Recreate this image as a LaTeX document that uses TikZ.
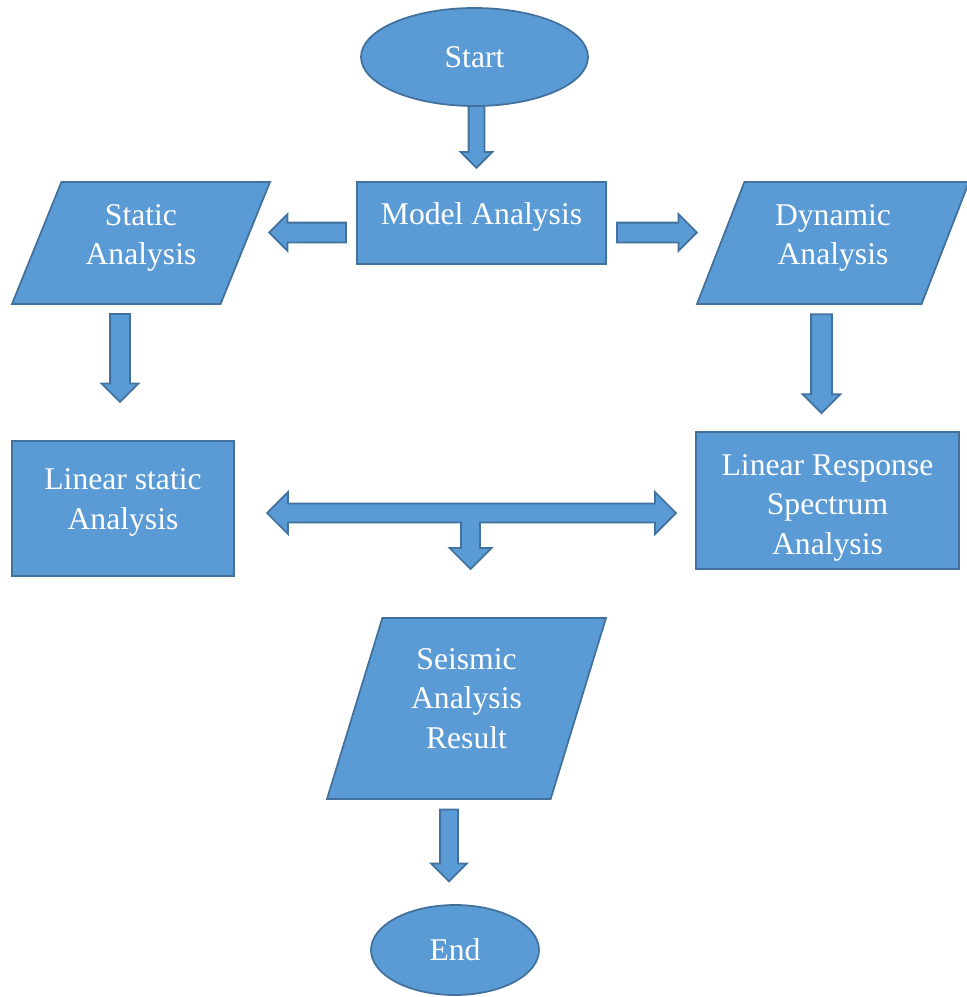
\documentclass[tikz,border=0pt]{standalone}
\usepackage{fontspec}
\setmainfont{Liberation Serif}
\usetikzlibrary{shapes.geometric,shapes.arrows}
\definecolor{boxfill}{HTML}{5B9BD5}
\definecolor{boxline}{HTML}{41719C}
\tikzset{
  shapebase/.style={draw=boxline, fill=boxfill, line width=1pt, text=white, align=center,
    font=\fontsize{18}{22.5}\selectfont},
  terminal/.style={shapebase, ellipse, inner sep=0pt},
  process/.style={shapebase, rectangle},
  data/.style 2 args={shapebase, trapezium, trapezium left angle=#1, trapezium right angle=#2,
    trapezium stretches body},
  blockarrow/.style={single arrow, draw=boxline, fill=boxfill, line width=1pt, inner xsep=0pt,
    single arrow tip angle=90, single arrow head indent=0pt, rotate=#1},
  flowline/.style={draw=boxline, fill=boxfill, line width=1pt}
}
\begin{document}
\begin{tikzpicture}
  \useasboundingbox (0,0) rectangle (19.34,-19.94);
  % boxes
  \node[terminal, minimum width=4.54cm, minimum height=1.96cm] (start) at (9.49,-1.14) {Start};
  \node[process, minimum width=4.98cm, minimum height=1.64cm, text height=0.45cm, text depth=0.41cm] (model) at (9.63,-4.46) {Model Analysis};
  \node[data={61}{119}, minimum width=5.16cm, minimum height=2.44cm, text depth=0.34cm] (static) at (2.82,-4.86) {Static\\Analysis};
  \node[data={62}{118}, minimum width=5.44cm, minimum height=2.44cm, text depth=0.34cm] (dynamic) at (16.66,-4.86) {Dynamic\\Analysis};
  \node[process, minimum width=4.44cm, minimum height=2.70cm, text depth=0.38cm] (linstat) at (2.46,-10.17) {Linear static\\Analysis};
  \node[process, minimum width=5.26cm, minimum height=2.74cm, text height=2.29cm] (lrs) at (16.55,-10.01) {Linear Response\\Spectrum\\Analysis};
  \node[data={67.2}{112.8}, minimum width=5.58cm, minimum height=3.62cm, text depth=0.40cm] (seismic) at (9.33,-14.17) {Seismic\\Analysis\\Result};
  \node[terminal, minimum width=3.36cm, minimum height=1.80cm] (end) at (9.10,-19.00) {End};
  % block arrows
  \node[blockarrow=-90, minimum height=1.24cm, inner ysep=0.14cm, single arrow head extend=0.16cm] (startmodel) at (9.53,-2.66) {};
  \node[blockarrow=180, minimum height=1.54cm, inner ysep=0.18cm, single arrow head extend=0.17cm] (modelstatic) at (6.25,-4.65) {};
  \node[blockarrow=0, minimum height=1.60cm, inner ysep=0.18cm, single arrow head extend=0.17cm] (modeldynamic) at (13.04,-4.65) {};
  \node[blockarrow=-90, minimum height=1.76cm, inner ysep=0.18cm, single arrow head extend=0.17cm] (staticlin) at (2.40,-7.06) {};
  \node[blockarrow=-90, minimum height=1.98cm, inner ysep=0.19cm, single arrow head extend=0.17cm] (dynamiclrs) at (16.43,-7.17) {};
  \node[blockarrow=-90, minimum height=1.44cm, inner ysep=0.16cm, single arrow head extend=0.18cm] (seismicend) at (8.98,-16.82) {};
  % joint arrow from both analyses to the result
  \coordinate (hub) at (9.41,-10.26);
  \draw[flowline] (hub) ++(-4.07,0) -- ++(0.42,0.42) -- ++(0,-0.23) -- ++(7.34,0) -- ++(0,0.23)
    -- ++(0.42,-0.42) -- ++(-0.42,-0.42) -- ++(0,0.23) -- ++(-3.50,0) -- ++(0,-0.51)
    -- ++(0.23,0) -- ++(-0.42,-0.42) -- ++(-0.42,0.42) -- ++(0.23,0) -- ++(0,0.51)
    -- ++(-3.46,0) -- ++(0,-0.23) -- cycle;
\end{tikzpicture}
\end{document}
